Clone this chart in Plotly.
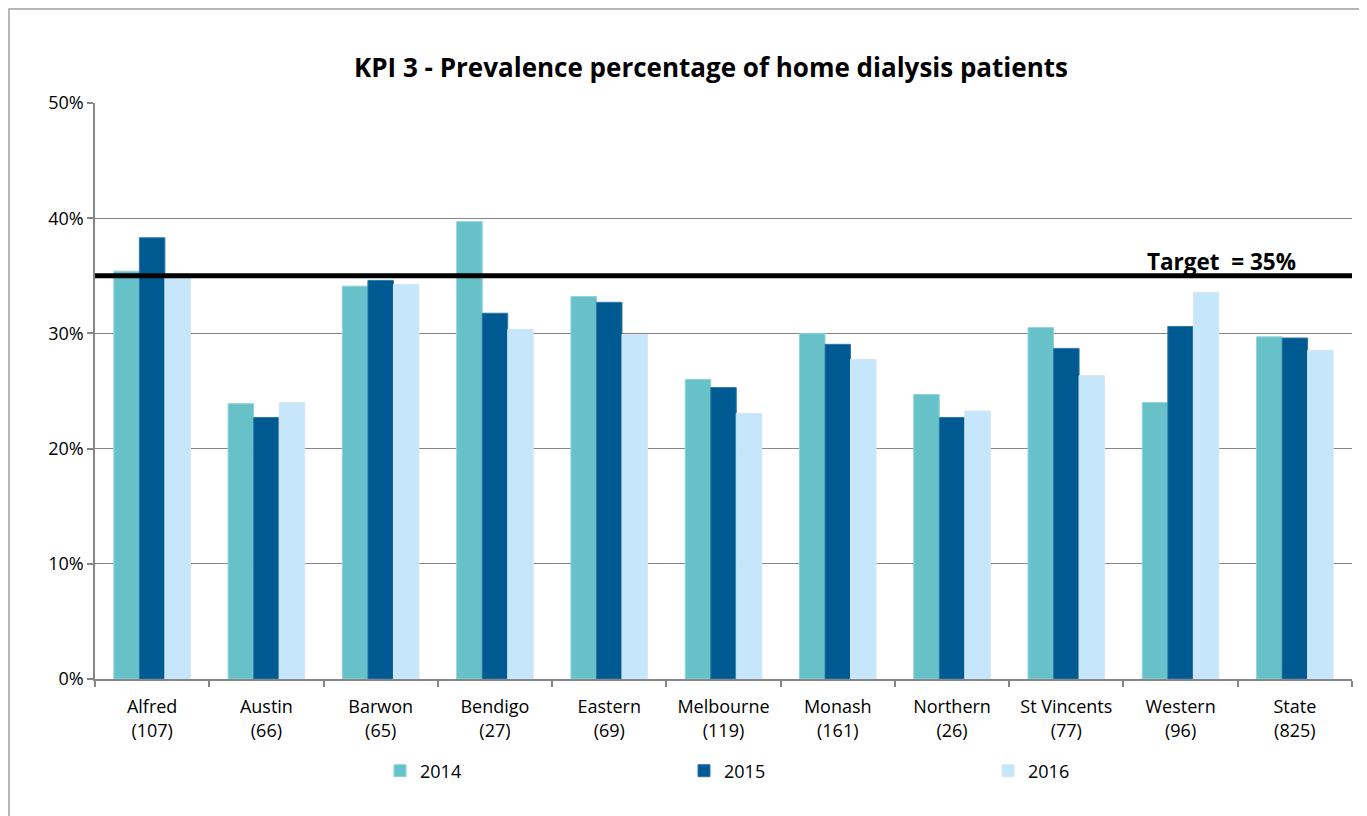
import plotly.graph_objects as go

categories = ["Alfred<br>(107)", "Austin<br>(66)", "Barwon<br>(65)", "Bendigo<br>(27)", "Eastern<br>(69)",
              "Melbourne<br>(119)", "Monash<br>(161)", "Northern<br>(26)", "St Vincents<br>(77)",
              "Western<br>(96)", "State<br>(825)"]
years = ["2014", "2015", "2016"]
v2014 = [35.4, 23.9, 34.1, 39.7, 33.2, 26.0, 30.0, 24.7, 30.5, 24.0, 29.7]
v2015 = [38.3, 22.7, 34.6, 31.75, 32.7, 25.3, 29.05, 22.7, 28.7, 30.6, 29.6]
v2016 = [34.9, 24.0, 34.25, 30.35, 29.9, 23.06, 27.75, 23.26, 26.33, 33.56, 28.53]
target = 35
colors = ["#66C1C8", "#005A92", "#C5E6FB"]
edge = ["#8fd3d8", "#2f78a8", "#d8e6f0"]

FONT = "Open Sans"
OFF = 8  # page body margin
fig = go.Figure()
for name, vals, c, e in zip(years, [v2014, v2015, v2016], colors, edge):
    fig.add_trace(go.Bar(x=categories, y=vals, name=name,
                         marker=dict(color=c, line=dict(color=e, width=1))))

W, H = 1367 - OFF, 816 - OFF
# plot area in screenshot coordinates: x 95..1352, y 103..679
L = 95 - OFF
T = 103 - OFF
R = W - (1352 - OFF)
B = H - (679 - OFF)
pw, ph = W - L - R, H - T - B

def px2x(p):
    return (p - OFF - L) / pw

def px2y(p):
    return (H - B - (p - OFF)) / ph

fig.update_layout(
    width=W, height=H,
    margin=dict(l=L, r=R, t=T, b=B),
    paper_bgcolor="white", plot_bgcolor="white",
    barmode="group", bargap=0.33, bargroupgap=0,
    font=dict(family=FONT, size=18, color="black"),
    title=dict(text="<b>KPI 3 - Prevalence percentage of home dialysis patients</b>",
               font=dict(family=FONT, size=26, color="black"),
               x=px2x(711), xref="paper", xanchor="center",
               y=1 - (68 - OFF) / H, yanchor="middle"),
    xaxis=dict(showline=True, linecolor="#868686", linewidth=1.5,
               ticks="outside", tickson="boundaries", ticklen=6, tickcolor="#868686",
               tickwidth=1.5, tickfont=dict(family=FONT, size=18, color="black"),
               ticklabelstandoff=11, showgrid=False),
    yaxis=dict(range=[0, 50], dtick=10, ticksuffix="%", showline=True,
               linecolor="#868686", linewidth=1.5, gridcolor="#868686", gridwidth=1.3,
               ticks="outside", ticklen=6, tickcolor="#868686", tickwidth=1.5,
               tickfont=dict(family=FONT, size=18, color="black"), zeroline=False),
    legend=dict(orientation="h", x=px2x(380), xanchor="left", y=px2y(771), yanchor="middle",
                entrywidth=259, entrywidthmode="pixels",
                font=dict(family=FONT, size=18, color="black"),
                itemclick=False, traceorder="normal"),
    showlegend=True,
)

fig.add_shape(type="line", xref="paper", yref="y", x0=0, x1=1, y0=target, y1=target,
              line=dict(color="black", width=5))
fig.add_annotation(text="<b>Target  = %d%%</b>" % target, xref="paper", yref="y",
                   x=px2x(1221), y=target + 1.28, showarrow=False, xanchor="center",
                   yanchor="middle", font=dict(family=FONT, size=22.5, color="black"))
# outer chart frame
fig.add_shape(type="rect", xref="paper", yref="paper",
              x0=px2x(9), x1=px2x(1367 + 10), y0=px2y(9), y1=px2y(816 + 10),
              line=dict(color="#A0A0A0", width=1.5), fillcolor="rgba(0,0,0,0)", layer="below")

fig.write_html("out.html")
